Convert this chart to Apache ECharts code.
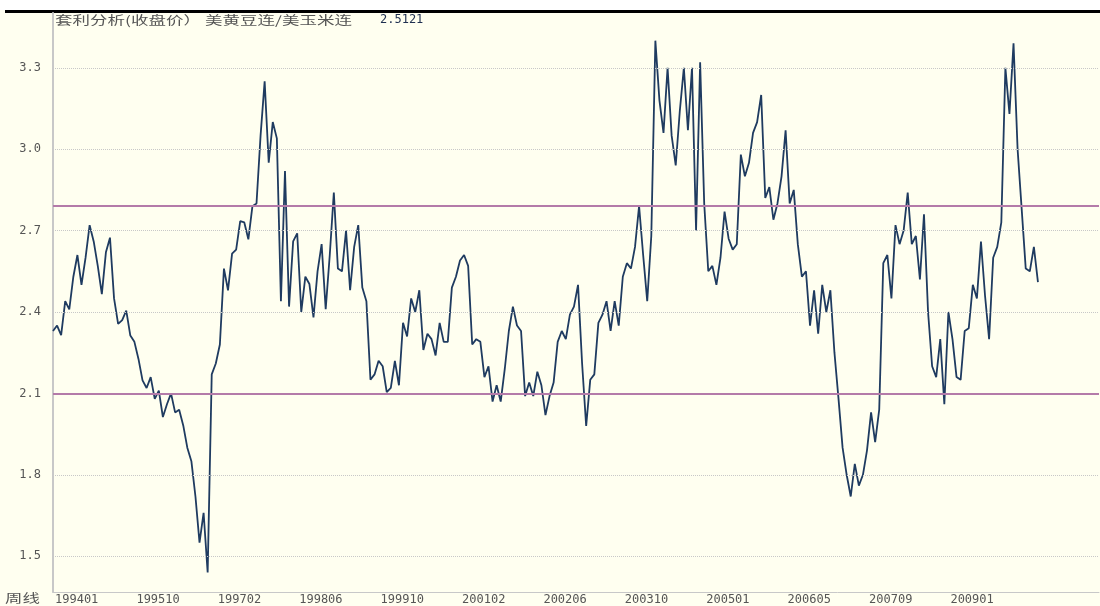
<!DOCTYPE html>
<html>
<head>
<meta charset="utf-8">
<script src="https://cdn.jsdelivr.net/npm/echarts@6/dist/echarts.min.js"></script>
<style>
  html, body { margin: 0; padding: 0; background: #fff; }
  #chart { width: 1100px; height: 606px; }
</style>
</head>
<body>
<div id="chart"></div>
<script>
// weekly ratio soybean / corn
var tickLabels = ['199401', '199510', '199702', '199806', '199910', '200102',
                  '200206', '200310', '200501', '200605', '200709', '200901'];
var labelStep = 20;      // slots between two date labels
var slotCount = 258;     // slots across the whole x axis
var yTicks = [1.5, 1.8, 2.1, 2.4, 2.7, 3.0, 3.3];
var bandLines = [2.79, 2.1];
var lastValue = '2.5121';

var ratio = [
  2.33, 2.35, 2.315, 2.44, 2.41, 2.53, 2.61, 2.50, 2.60, 2.72,
  2.66, 2.57, 2.466, 2.62, 2.674, 2.45, 2.356, 2.37, 2.405, 2.313,
  2.29, 2.227, 2.148, 2.12, 2.16, 2.08, 2.11, 2.013, 2.06, 2.10,
  2.03, 2.04, 1.982, 1.90, 1.85, 1.72, 1.55, 1.66, 1.44, 2.17,
  2.21, 2.28, 2.56, 2.48, 2.615, 2.63, 2.735, 2.73, 2.668, 2.79,
  2.80, 3.05, 3.25, 2.95, 3.10, 3.04, 2.44, 2.92, 2.42, 2.66,
  2.69, 2.40, 2.53, 2.503, 2.38, 2.55, 2.65, 2.41, 2.61, 2.84,
  2.56, 2.55, 2.70, 2.48, 2.64, 2.72, 2.49, 2.44, 2.15, 2.17,
  2.22, 2.20, 2.105, 2.12, 2.22, 2.13, 2.36, 2.31, 2.45, 2.40,
  2.48, 2.26, 2.32, 2.30, 2.24, 2.36, 2.29, 2.29, 2.49, 2.53,
  2.59, 2.61, 2.57, 2.28, 2.30, 2.29, 2.16, 2.20, 2.07, 2.13,
  2.07, 2.19, 2.33, 2.42, 2.35, 2.33, 2.09, 2.14, 2.09, 2.18,
  2.13, 2.02, 2.09, 2.14, 2.29, 2.33, 2.30, 2.39, 2.42, 2.50,
  2.21, 1.98, 2.15, 2.17, 2.36, 2.39, 2.44, 2.33, 2.44, 2.35,
  2.53, 2.58, 2.56, 2.64, 2.79, 2.61, 2.44, 2.68, 3.40, 3.18,
  3.06, 3.30, 3.05, 2.94, 3.14, 3.30, 3.07, 3.30, 2.70, 3.32,
  2.80, 2.55, 2.57, 2.50, 2.60, 2.77, 2.67, 2.63, 2.65, 2.98,
  2.90, 2.95, 3.06, 3.10, 3.20, 2.82, 2.86, 2.74, 2.80, 2.90,
  3.07, 2.80, 2.85, 2.65, 2.53, 2.55, 2.35, 2.48, 2.32, 2.50,
  2.40, 2.48, 2.25, 2.08, 1.90, 1.80, 1.72, 1.84, 1.76, 1.80,
  1.89, 2.03, 1.92, 2.04, 2.58, 2.61, 2.45, 2.72, 2.65, 2.70,
  2.84, 2.65, 2.68, 2.52, 2.76, 2.40, 2.20, 2.16, 2.30, 2.06,
  2.40, 2.30, 2.16, 2.15, 2.33, 2.34, 2.50, 2.45, 2.66, 2.46,
  2.30, 2.60, 2.64, 2.73, 3.30, 3.13, 3.39, 3.00, 2.78, 2.56,
  2.55, 2.64, 2.51
];

var slots = [];
for (var i = 0; i < slotCount; i++) slots.push(i);

var guideData = yTicks.map(function (v) {
  return { yAxis: v, lineStyle: { color: '#c8c8c8', type: 'dotted', width: 1 } };
}).concat(bandLines.map(function (v) {
  return { yAxis: v, lineStyle: { color: '#b47ba9', type: 'solid', width: 2 } };
}));

var chart = echarts.init(document.getElementById('chart'));
var mono = '"DejaVu Sans Mono", monospace';
var cjk = '"Noto Sans CJK SC", sans-serif';

chart.setOption({
  animation: false,
  backgroundColor: '#fffff0',
  grid: { left: 53, right: 1, top: 13, bottom: 12 },
  graphic: [
    { type: 'rect', shape: { x: 0, y: 0, width: 1100, height: 10 }, style: { fill: '#fff' } },
    { type: 'rect', shape: { x: 5, y: 10, width: 1095, height: 3 }, style: { fill: '#000' } },
    { type: 'text', x: 55, y: 14, scaleX: 1.46,
      style: { text: '套利分析(收盘价） 美黄豆连/美玉米连', font: '12px ' + cjk, fill: '#555', verticalAlign: 'top' } },
    { type: 'text', x: 380, y: 14,
      style: { text: lastValue, font: '12px ' + mono, fill: '#1f3050', verticalAlign: 'top' } },
    { type: 'text', x: 5, y: 592, scaleX: 1.45,
      style: { text: '周线', font: '12px ' + cjk, fill: '#555', verticalAlign: 'top' } }
  ],
  xAxis: {
    type: 'category',
    data: slots,
    boundaryGap: false,
    axisLine: { lineStyle: { color: '#c8c8c8', width: 1 } },
    axisTick: { show: false },
    splitLine: { show: false },
    axisLabel: {
      interval: function (idx) {
        return idx % labelStep === 0 && idx / labelStep < tickLabels.length;
      },
      formatter: function (val, idx) { return tickLabels[idx / labelStep] || ''; },
      align: 'left',
      margin: 2,
      padding: [0, 0, 0, 2],
      color: '#555',
      fontFamily: mono,
      fontSize: 12
    }
  },
  yAxis: {
    type: 'value',
    min: 1.368,
    max: 3.502,
    axisLine: { show: true, lineStyle: { color: '#c8c8c8', width: 2 } },
    axisTick: { show: false },
    splitLine: { show: false },
    axisLabel: {
      customValues: yTicks,
      formatter: function (v) { return v.toFixed(1); },
      margin: 12,
      color: '#555',
      fontFamily: mono,
      fontSize: 12
    }
  },
  series: [
    {
      name: 'guides',
      type: 'line',
      data: [],
      z: 1,
      markLine: { silent: true, symbol: 'none', label: { show: false }, data: guideData }
    },
    {
      name: '美黄豆连/美玉米连',
      type: 'line',
      z: 3,
      data: ratio,
      showSymbol: false,
      lineStyle: { color: '#1f3b60', width: 1.8 }
    }
  ]
});
</script>
</body>
</html>
